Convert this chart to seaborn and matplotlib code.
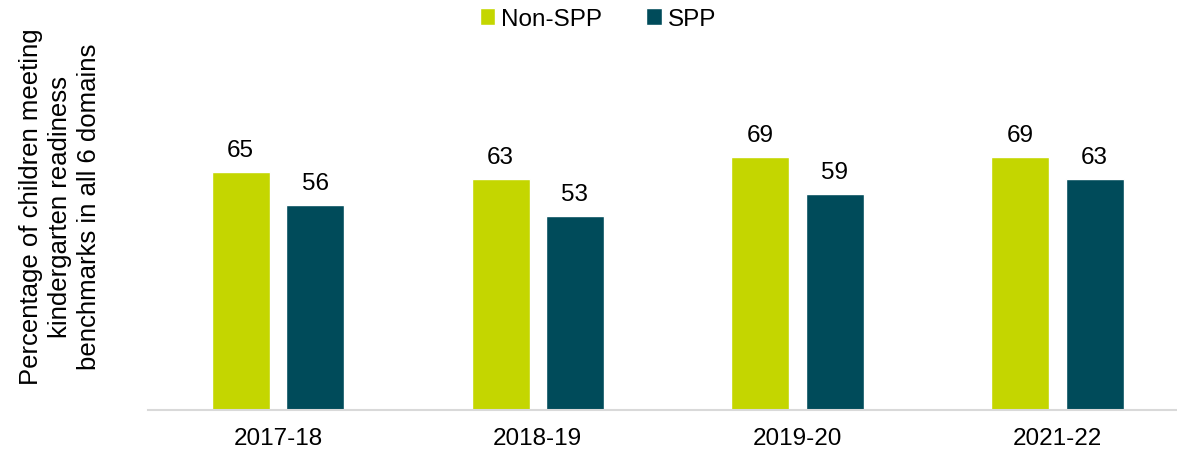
import matplotlib
matplotlib.use("Agg")
import matplotlib.pyplot as plt
import seaborn as sns
import pandas as pd

years = ["2017-18", "2018-19", "2019-20", "2021-22"]
non_spp = [65, 63, 69, 69]
spp = [56, 53, 59, 63]
groups = ["Non-SPP", "SPP"]
colors = ["#C4D600", "#004B5A"]

df = pd.DataFrame({
    "year": years * 2,
    "value": non_spp + spp,
    "group": [groups[0]] * len(years) + [groups[1]] * len(years),
})

sns.set_style("white", {"text.color": "black", "xtick.color": "black", "axes.labelcolor": "black"})
plt.rcParams["font.family"] = ["Liberation Sans", "DejaVu Sans"]

fig = plt.figure(figsize=(11.77, 4.56), dpi=100)
ax = fig.add_axes([148 / 1177, 45 / 456, 1029 / 1177, 366 / 456])

sns.barplot(data=df, x="year", y="value", hue="group", palette=colors,
            width=0.573, gap=0.22, ax=ax, saturation=1)

for cont in ax.containers:
    ax.bar_label(cont, fmt="%d", padding=8, fontsize=17.5, color="black")

ax.set_ylim(0, 100)
ax.set_xlim(-0.5, 3.46)
ax.set_xlabel("")
ax.set_ylabel("Percentage of children meeting\nkindergarten readiness\nbenchmarks in all 6 domains",
              fontsize=18.5, linespacing=1.25)
ax.yaxis.set_label_coords(-0.046, 0.557)
ax.set_yticks([])
for s in ["top", "right", "left"]:
    ax.spines[s].set_visible(False)
ax.spines["bottom"].set_color("#D9D9D9")
ax.spines["bottom"].set_linewidth(1.5)
ax.tick_params(axis="x", labelsize=17.5, length=0, pad=12)

ax.legend(loc="center", bbox_to_anchor=(598 / 1177, 1 - 20 / 456), bbox_transform=fig.transFigure,
          ncol=2, frameon=False, fontsize=17.5, handlelength=0.65, handleheight=0.65,
          handletextpad=0.25, columnspacing=1.8)

fig.savefig("out.png", dpi=100)
